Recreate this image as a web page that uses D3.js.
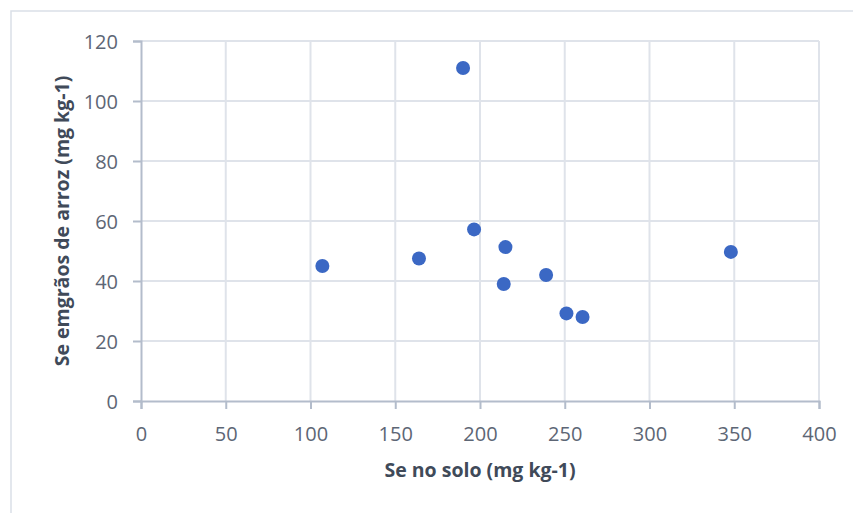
<!DOCTYPE html>
<meta charset="utf-8">
<script src="https://d3js.org/d3.v7.min.js"></script>
<style>
  body { margin: 0; background: #fff; }
  text { font-family: "Open Sans", sans-serif; }
</style>
<svg id="chart" width="853" height="513"></svg>
<script>
// soil Se vs rice grain Se
const soloSe = [107, 164, 190, 196.5, 215, 214, 239, 251, 260.5, 348];
const arrozSe = [45, 47.5, 111, 57.2, 51.3, 39, 42, 29.2, 28, 49.7];
const xTicks = [0, 50, 100, 150, 200, 250, 300, 350, 400];
const yTicks = [0, 20, 40, 60, 80, 100, 120];

const svg = d3.select("#chart");
const margin = {top: 41, right: 34, bottom: 112, left: 141};
const width = 853 - margin.left - margin.right,
      height = 513 - margin.top - margin.bottom;

// chart frame (cropped at right/bottom)
svg.append("rect")
  .attr("x", 11).attr("y", 11)
  .attr("width", 900).attr("height", 600)
  .attr("fill", "none")
  .attr("stroke", "#dadfe7")
  .attr("stroke-width", 1.5);

const g = svg.append("g").attr("transform", `translate(${margin.left},${margin.top})`);

const x = d3.scaleLinear().domain([0, 400]).range([0, width]);
const y = d3.scaleLinear().domain([0, 120]).range([height, 0]);

// gridlines
g.append("g")
  .selectAll("line.v")
  .data(xTicks.slice(1))
  .join("line")
    .attr("x1", d => x(d)).attr("x2", d => x(d))
    .attr("y1", 0).attr("y2", height)
    .attr("stroke", "#dfe3ea").attr("stroke-width", 2);
g.append("g")
  .selectAll("line.h")
  .data(yTicks.slice(1))
  .join("line")
    .attr("x1", 0).attr("x2", width)
    .attr("y1", d => y(d)).attr("y2", d => y(d))
    .attr("stroke", "#dfe3ea").attr("stroke-width", 2);

// axes
const xAxis = g.append("g")
  .attr("transform", `translate(0,${height})`)
  .call(d3.axisBottom(x).tickValues(xTicks).tickSize(8));
const yAxis = g.append("g")
  .call(d3.axisLeft(y).tickValues(yTicks).tickSize(8).tickPadding(15));

[xAxis, yAxis].forEach(a => {
  a.select(".domain").attr("stroke", "#b3bccb").attr("stroke-width", 2);
  a.selectAll(".tick line").attr("stroke", "#b3bccb").attr("stroke-width", 2);
  a.selectAll(".tick text")
    .attr("fill", "#5d6675")
    .style("font-size", "20px")
    .style("font-family", "'Open Sans', sans-serif");
});
yAxis.selectAll(".tick text").attr("dy", "0.35em");
xAxis.selectAll(".tick text").attr("dy", "0.35em").attr("y", 33);

// points
g.append("g")
  .selectAll("circle")
  .data(soloSe.map((v, i) => [v, arrozSe[i]]))
  .join("circle")
    .attr("cx", d => x(d[0]))
    .attr("cy", d => y(d[1]))
    .attr("r", 7)
    .attr("fill", "#3b68c4");

// axis titles
svg.append("text")
  .attr("x", margin.left + width / 2)
  .attr("y", 477)
  .attr("text-anchor", "middle")
  .attr("fill", "#404a59")
  .style("font-size", "19.5px")
  .style("font-weight", "bold")
  .text("Se no solo (mg kg-1)");

svg.append("text")
  .attr("transform", `translate(69,${margin.top + height / 2}) rotate(-90)`)
  .attr("text-anchor", "middle")
  .attr("fill", "#404a59")
  .style("font-size", "19.5px")
  .style("font-weight", "bold")
  .text("Se emgrãos de arroz (mg kg-1)");
</script>
